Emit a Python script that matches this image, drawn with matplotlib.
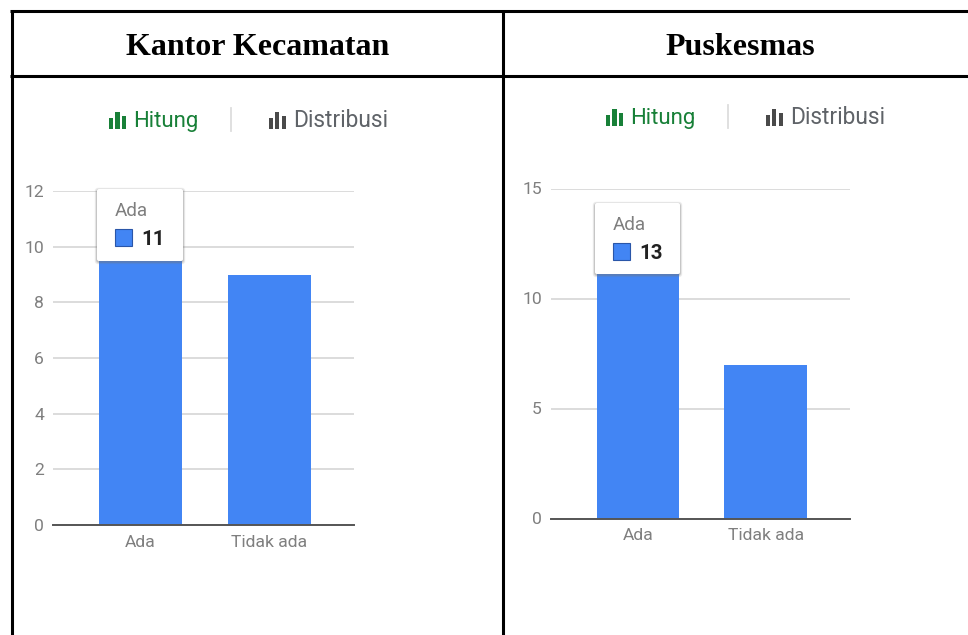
import matplotlib
matplotlib.use("Agg")
import matplotlib.pyplot as plt
from matplotlib.patches import Rectangle, FancyBboxPatch
from matplotlib.lines import Line2D

W, H = 968, 635
cats = ["Ada", "Tidak ada"]
left_vals = [11, 9]
right_vals = [13, 7]
left_ticks = [0, 2, 4, 6, 8, 10, 12]
right_ticks = [0, 5, 10, 15]
titles = ["Kantor Kecamatan", "Puskesmas"]
tabs = ["Hitung", "Distribusi"]

BLUE = "#4285f4"
GREEN = "#188038"
DARK = "#4a4a4a"
GREY = "#7f7f7f"
GRID = "#d9d9d9"

fig = plt.figure(figsize=(W / 100, H / 100), dpi=100)
bg = fig.add_axes([0, 0, 1, 1], zorder=0)
bg.set_xlim(0, W); bg.set_ylim(H, 0); bg.axis("off")

for x in (11.5, 503):
    bg.add_line(Line2D([x, x], [10, H], color="k", lw=2.2, solid_capstyle="butt"))
for y in (11, 76):
    bg.add_line(Line2D([10, W], [y, y], color="k", lw=2.2, solid_capstyle="butt"))

for cx, t in zip((258, 740), titles):
    bg.text(cx, 55, t, ha="center", va="baseline", family="Liberation Serif",
            weight="bold", fontsize=23)


def tab_icon(x, ybot, color):
    for dx, h in ((0, 11), (6.4, 17), (13, 13)):
        bg.add_patch(Rectangle((x + dx, ybot - h), 4.3, h, color=color, lw=0))


def panel(rect_px, xlim, bw, vals, ticks, ymax, tab_x, tab_y, tip, tipval):
    x0, ytop, x1, ybot = rect_px
    ax = fig.add_axes([x0 / W, 1 - ybot / H, (x1 - x0) / W, (ybot - ytop) / H], zorder=1)
    ax.patch.set_alpha(0)
    ax.bar(cats, vals, width=bw, color=BLUE, zorder=3)
    ax.set_xlim(*xlim)
    ax.set_ylim(0, ymax)
    ax.set_yticks(ticks)
    ax.grid(axis="y", color=GRID, lw=1.3, zorder=1)
    ax.set_axisbelow(True)
    for s in ("top", "right", "left"):
        ax.spines[s].set_visible(False)
    ax.spines["bottom"].set_color("#555555")
    ax.spines["bottom"].set_linewidth(1.4)
    ax.spines["bottom"].set_zorder(4)
    ax.tick_params(length=0, labelcolor=GREY, labelsize=12.6)
    for l in ax.get_xticklabels() + ax.get_yticklabels():
        l.set_family("Roboto")
    ax.tick_params(axis="x", pad=7.2)
    ax.tick_params(axis="y", pad=6.5)

    # tabs
    tab_icon(tab_x, tab_y + 9, GREEN)
    bg.text(tab_x + 24.5, tab_y + 7, tabs[0], color=GREEN, fontsize=15.9, family="Roboto", va="baseline")
    bg.add_line(Line2D([tab_x + 122, tab_x + 122], [tab_y - 12, tab_y + 11], color="#dddddd", lw=1.3))
    tab_icon(tab_x + 159.5, tab_y + 9, DARK)
    bg.text(tab_x + 184, tab_y + 7, tabs[1], color="#5f6368", fontsize=16.4, family="Roboto", va="baseline")

    # tooltip
    tx, ty, tw, th = tip
    ov = fig.add_axes([0, 0, 1, 1], zorder=2)
    ov.set_xlim(0, W); ov.set_ylim(H, 0); ov.axis("off")
    for pad, alpha in ((2.2, 0.12), (1.4, 0.18), (0.7, 0.25)):
        ov.add_patch(FancyBboxPatch((tx - pad, ty - pad + 1), tw + 2 * pad, th + 2 * pad,
                                    boxstyle="round,pad=0,rounding_size=3",
                                    fc="#777777", ec="none", alpha=alpha))
    ov.add_patch(FancyBboxPatch((tx, ty), tw, th, boxstyle="round,pad=0,rounding_size=2",
                                fc="white", ec="none"))
    ov.text(tx + 17.5, ty + 27, cats[0], color=GREY, fontsize=13.6, family="Roboto", va="baseline")
    ov.add_patch(Rectangle((tx + 18, ty + 40), 17, 17, fc=BLUE, ec="#2a56a8", lw=0.8))
    ov.text(tx + 44, ty + 56, str(tipval), color="#222222", fontsize=14.8, weight="bold",
            family="Roboto", va="baseline")


panel((53, 191, 354, 525), (-0.678, 1.655), 0.65, left_vals, left_ticks, 12,
      109, 120, (97, 189, 86, 72), left_vals[0])
panel((551, 188.5, 850, 518.5), (-0.684, 1.661), 0.647, right_vals, right_ticks, 15,
      606, 117, (595, 203, 85, 71), right_vals[0])

fig.savefig("out.png", dpi=100)
